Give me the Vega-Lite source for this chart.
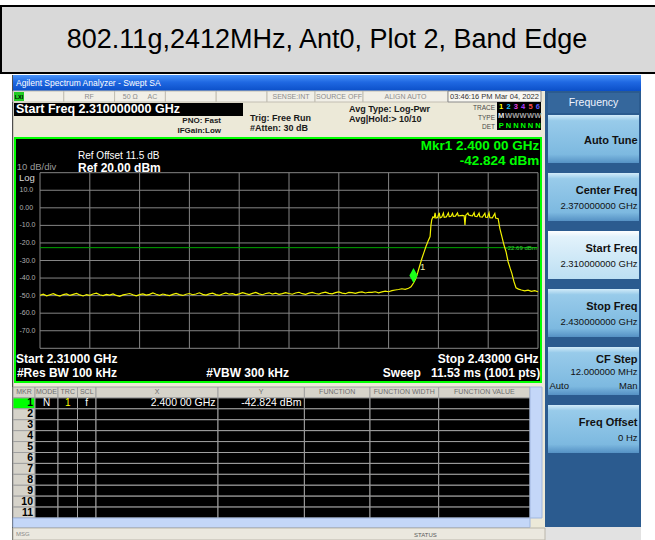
{
"$schema":"https://vega.github.io/schema/vega-lite/v6.json",
"width":655,"height":540,"autosize":{"type":"none"},"padding":0,"background":"#ffffff",
"config":{"font":"Liberation Sans","view":{"stroke":null},"axis":{"disable":true},"legend":{"disable":true}},
"resolve":{"scale":{"x":"independent","y":"independent","color":"independent","fill":"independent"}},
"datasets":{
"trace":[
{"f":2.3100,"db":-49.8},{"f":2.3108,"db":-49.2},{"f":2.3116,"db":-50.1},{"f":2.3124,"db":-49.5},{"f":2.3132,"db":-48.9},{"f":2.3140,"db":-49.7},{"f":2.3148,"db":-50.3},{"f":2.3156,"db":-49.4},{"f":2.3164,"db":-49.0},{"f":2.3172,"db":-49.9},
{"f":2.3180,"db":-49.3},{"f":2.3188,"db":-48.7},{"f":2.3196,"db":-49.6},{"f":2.3204,"db":-50.2},{"f":2.3212,"db":-49.4},{"f":2.3220,"db":-49.8},{"f":2.3228,"db":-49.1},{"f":2.3236,"db":-48.6},{"f":2.3244,"db":-49.5},{"f":2.3252,"db":-50.0},
{"f":2.3260,"db":-49.3},{"f":2.3268,"db":-49.7},{"f":2.3276,"db":-49.0},{"f":2.3284,"db":-49.9},{"f":2.3292,"db":-50.4},{"f":2.3300,"db":-49.6},{"f":2.3308,"db":-49.2},{"f":2.3316,"db":-48.8},{"f":2.3324,"db":-49.5},{"f":2.3332,"db":-50.1},
{"f":2.3340,"db":-49.4},{"f":2.3348,"db":-49.0},{"f":2.3356,"db":-49.7},{"f":2.3364,"db":-49.3},{"f":2.3372,"db":-48.5},{"f":2.3380,"db":-49.2},{"f":2.3388,"db":-49.8},{"f":2.3396,"db":-49.1},{"f":2.3404,"db":-49.6},{"f":2.3412,"db":-50.0},
{"f":2.3420,"db":-49.3},{"f":2.3428,"db":-48.7},{"f":2.3436,"db":-49.4},{"f":2.3444,"db":-49.9},{"f":2.3452,"db":-49.2},{"f":2.3460,"db":-48.8},{"f":2.3468,"db":-49.5},{"f":2.3476,"db":-49.1},{"f":2.3484,"db":-48.4},{"f":2.3492,"db":-49.3},
{"f":2.3500,"db":-49.7},{"f":2.3508,"db":-49.0},{"f":2.3516,"db":-48.6},{"f":2.3524,"db":-49.4},{"f":2.3532,"db":-49.8},{"f":2.3540,"db":-49.1},{"f":2.3548,"db":-48.5},{"f":2.3556,"db":-49.2},{"f":2.3564,"db":-48.9},{"f":2.3572,"db":-49.6},
{"f":2.3580,"db":-49.0},{"f":2.3588,"db":-48.3},{"f":2.3596,"db":-48.9},{"f":2.3604,"db":-49.4},{"f":2.3612,"db":-48.7},{"f":2.3620,"db":-48.2},{"f":2.3628,"db":-49.0},{"f":2.3636,"db":-49.5},{"f":2.3644,"db":-48.8},{"f":2.3652,"db":-48.4},
{"f":2.3660,"db":-49.1},{"f":2.3668,"db":-48.6},{"f":2.3676,"db":-49.3},{"f":2.3684,"db":-48.9},{"f":2.3692,"db":-48.3},{"f":2.3700,"db":-48.8},{"f":2.3708,"db":-49.2},{"f":2.3716,"db":-48.5},{"f":2.3724,"db":-48.1},{"f":2.3732,"db":-48.9},
{"f":2.3740,"db":-49.3},{"f":2.3748,"db":-48.6},{"f":2.3756,"db":-48.2},{"f":2.3764,"db":-48.8},{"f":2.3772,"db":-49.1},{"f":2.3780,"db":-48.4},{"f":2.3788,"db":-48.0},{"f":2.3796,"db":-48.7},{"f":2.3804,"db":-49.0},{"f":2.3812,"db":-48.3},
{"f":2.3820,"db":-47.9},{"f":2.3828,"db":-48.6},{"f":2.3836,"db":-48.9},{"f":2.3844,"db":-48.2},{"f":2.3852,"db":-48.3},{"f":2.3860,"db":-48.7},{"f":2.3868,"db":-48.2},{"f":2.3876,"db":-47.9},{"f":2.3884,"db":-48.5},{"f":2.3892,"db":-48.1},
{"f":2.3900,"db":-48.2},{"f":2.3908,"db":-47.8},{"f":2.3916,"db":-48.4},{"f":2.3924,"db":-47.9},{"f":2.3932,"db":-47.5},{"f":2.3940,"db":-47.8},{"f":2.3948,"db":-47.2},{"f":2.3956,"db":-46.8},{"f":2.3964,"db":-46.5},{"f":2.3972,"db":-46.1},
{"f":2.3980,"db":-46.4},{"f":2.3988,"db":-45.8},{"f":2.3994,"db":-45.0},{"f":2.4000,"db":-42.8},{"f":2.4005,"db":-40.5},{"f":2.4010,"db":-37.0},{"f":2.4015,"db":-33.0},{"f":2.4020,"db":-29.0},{"f":2.4025,"db":-25.5},{"f":2.4030,"db":-22.0},
{"f":2.4035,"db":-19.0},{"f":2.4040,"db":-16.4},{"f":2.4042,"db":-10.0},{"f":2.4044,"db":-6.8},{"f":2.4047,"db":-5.2},{"f":2.4050,"db":-5.6},{"f":2.4052,"db":-2.9},{"f":2.4054,"db":-5.8},{"f":2.4058,"db":-5.5},{"f":2.4062,"db":-2.8},
{"f":2.4064,"db":-5.7},{"f":2.4068,"db":-5.3},{"f":2.4072,"db":-3.0},{"f":2.4074,"db":-5.4},{"f":2.4079,"db":-5.2},{"f":2.4084,"db":-2.9},{"f":2.4086,"db":-5.0},{"f":2.4090,"db":-4.9},{"f":2.4094,"db":-3.1},{"f":2.4096,"db":-4.8},
{"f":2.4101,"db":-4.7},{"f":2.4106,"db":-2.9},{"f":2.4108,"db":-4.6},{"f":2.4114,"db":-4.4},{"f":2.4118,"db":-4.3},{"f":2.4122,"db":-4.5},{"f":2.4124,"db":-9.8},{"f":2.4126,"db":-4.2},{"f":2.4131,"db":-3.0},{"f":2.4133,"db":-4.1},
{"f":2.4138,"db":-4.4},{"f":2.4142,"db":-4.6},{"f":2.4146,"db":-2.8},{"f":2.4148,"db":-4.8},{"f":2.4153,"db":-5.0},{"f":2.4158,"db":-3.0},{"f":2.4160,"db":-5.1},{"f":2.4166,"db":-5.3},{"f":2.4172,"db":-3.1},{"f":2.4174,"db":-5.4},
{"f":2.4178,"db":-5.5},{"f":2.4182,"db":-2.9},{"f":2.4184,"db":-5.6},{"f":2.4190,"db":-5.7},{"f":2.4196,"db":-3.2},{"f":2.4198,"db":-5.8},{"f":2.4204,"db":-6.2},{"f":2.4208,"db":-11.7},{"f":2.4213,"db":-16.4},{"f":2.4218,"db":-21.2},
{"f":2.4223,"db":-25.0},{"f":2.4228,"db":-30.7},{"f":2.4233,"db":-34.5},{"f":2.4237,"db":-37.3},{"f":2.4242,"db":-42.0},{"f":2.4247,"db":-45.5},{"f":2.4253,"db":-46.3},{"f":2.4260,"db":-46.8},{"f":2.4268,"db":-47.3},{"f":2.4276,"db":-46.9},
{"f":2.4284,"db":-47.6},{"f":2.4292,"db":-47.2},{"f":2.4300,"db":-47.8}
],
"mkr":[
{"r":"hdr","MKR":"MKR","MODE":"MODE","TRC":"TRC","SCL":"SCL","X":"X","Y":"Y","FN":"FUNCTION","FW":"FUNCTION WIDTH","FV":"FUNCTION VALUE"},
{"r":"1","MKR":"1","MODE":"N","TRC":"1","SCL":"f","X":"2.400 00 GHz","Y":"-42.824 dBm"},
{"r":"2","MKR":"2"},{"r":"3","MKR":"3"},{"r":"4","MKR":"4"},{"r":"5","MKR":"5"},{"r":"6","MKR":"6"},{"r":"7","MKR":"7"},{"r":"8","MKR":"8"},{"r":"9","MKR":"9"},{"r":"10","MKR":"10"},{"r":"11","MKR":"11"}
],
"keys":[
{"p":"s","key":"Auto Tune"},
{"p":"s","key":"Center Freq","v":"2.370000000 GHz"},
{"p":"s","key":"Start Freq","v":"2.310000000 GHz"},
{"p":"s","key":"Stop Freq","v":"2.430000000 GHz"},
{"p":"s","key":"CF Step","v":"12.000000 MHz","a":"Auto","m":"Man"},
{"p":"s","key":"Freq Offset","v":"0 Hz"}
]
},
"layer":[
{"data":{"values":[{"k":"title","t":"802.11g,2412MHz, Ant0, Plot 2, Band Edge"}]},
 "encoding":{"x":{"field":"k","type":"nominal","scale":{"type":"band","range":[1,664],"paddingInner":0,"paddingOuter":0}},"y":{"field":"k","type":"nominal","scale":{"type":"band","range":[6,73],"paddingInner":0,"paddingOuter":0}}},
 "layer":[{"mark":{"type":"rect","fill":"#d9d9d9","stroke":"#000000","strokeWidth":2}},
          {"mark":{"type":"text","fontSize":27,"color":"#000000","dx":-5.5,"dy":0.5},"encoding":{"text":{"field":"t"}}}]},
{"data":{"values":[{"k":"base"}]},"mark":{"type":"rect","fill":"#ece9d8"},
 "encoding":{"x":{"field":"k","type":"nominal","scale":{"type":"band","range":[13,641],"paddingInner":0,"paddingOuter":0}},"y":{"field":"k","type":"nominal","scale":{"type":"band","range":[75,540],"paddingInner":0,"paddingOuter":0}}}},
{"data":{"values":[{"k":"edge"}]},"mark":{"type":"rect","fill":"#4d4d4d"},
 "encoding":{"x":{"field":"k","type":"nominal","scale":{"type":"band","range":[12,13.2],"paddingInner":0,"paddingOuter":0}},"y":{"field":"k","type":"nominal","scale":{"type":"band","range":[75,540],"paddingInner":0,"paddingOuter":0}}}},
{"data":{"values":[{"k":"w","t":"Agilent Spectrum Analyzer - Swept SA"}]},
 "encoding":{"x":{"field":"k","type":"nominal","scale":{"type":"band","range":[13,641],"paddingInner":0,"paddingOuter":0}},"y":{"field":"k","type":"nominal","scale":{"type":"band","range":[75,91],"paddingInner":0,"paddingOuter":0}}},
 "layer":[{"mark":{"type":"rect","fill":{"gradient":"linear","x1":0,"y1":0,"x2":0,"y2":1,"stops":[{"offset":0,"color":"#4a94f8"},{"offset":0.45,"color":"#1f68e2"},{"offset":1,"color":"#0b4fc8"}]}}},
          {"mark":{"type":"text","align":"left","dx":3,"fontSize":8.5,"color":"#ffffff"},"encoding":{"x":{"field":"k","type":"nominal","bandPosition":0,"scale":{"type":"band","range":[13,641],"paddingInner":0,"paddingOuter":0}},"text":{"field":"t"}}}]},
{"data":{"values":[{"k":"sk"}]},"mark":{"type":"rect","fill":"#2b5b8f"},
 "encoding":{"x":{"field":"k","type":"nominal","scale":{"type":"band","range":[545,641],"paddingInner":0,"paddingOuter":0}},"y":{"field":"k","type":"nominal","scale":{"type":"band","range":[91,527],"paddingInner":0,"paddingOuter":0}}}},
{"data":{"values":[{"k":"skb"}]},"mark":{"type":"rect","fill":"#e2e2e2"},
 "encoding":{"x":{"field":"k","type":"nominal","scale":{"type":"band","range":[545,641],"paddingInner":0,"paddingOuter":0}},"y":{"field":"k","type":"nominal","scale":{"type":"band","range":[527,540],"paddingInner":0,"paddingOuter":0}}}},
{"data":{"values":[{"k":"h","t":"Frequency"}]},
 "encoding":{"x":{"field":"k","type":"nominal","scale":{"type":"band","range":[548,639],"paddingInner":0,"paddingOuter":0}},"y":{"field":"k","type":"nominal","scale":{"type":"band","range":[93,113],"paddingInner":0,"paddingOuter":0}}},
 "layer":[{"mark":{"type":"rect","fill":"#35679c"}},{"mark":{"type":"text","fontSize":10.5,"color":"#f0f4ff"},"encoding":{"text":{"field":"t"}}}]},
{"data":{"name":"keys"},
 "layer":[
  {"transform":[{"filter":"datum.key !== 'Start Freq'"}],"mark":{"type":"rect","fill":{"gradient":"linear","x1":0,"y1":0,"x2":0,"y2":1,"stops":[{"offset":0,"color":"#d2ebf9"},{"offset":0.12,"color":"#98cbea"},{"offset":0.82,"color":"#7db9e0"},{"offset":1,"color":"#5591c4"}]}},
   "encoding":{"x":{"field":"p","type":"nominal","scale":{"type":"band","domain":["s"],"range":[548,639],"paddingInner":0,"paddingOuter":0}},"y":{"field":"key","type":"nominal","scale":{"type":"band","domain":["Auto Tune","Center Freq","Start Freq","Stop Freq","CF Step","Freq Offset"],"range":[115,453],"paddingInner":0.17,"paddingOuter":0}}}},
  {"transform":[{"filter":"datum.key === 'Start Freq'"}],"mark":{"type":"rect","fill":{"gradient":"linear","x1":0,"y1":0,"x2":0,"y2":1,"stops":[{"offset":0,"color":"#ffffff"},{"offset":0.12,"color":"#e2f2fb"},{"offset":1,"color":"#bcdff3"}]}},
   "encoding":{"x":{"field":"p","type":"nominal","scale":{"type":"band","domain":["s"],"range":[548,639],"paddingInner":0,"paddingOuter":0}},"y":{"field":"key","type":"nominal","scale":{"type":"band","domain":["Auto Tune","Center Freq","Start Freq","Stop Freq","CF Step","Freq Offset"],"range":[115,453],"paddingInner":0.17,"paddingOuter":0}}}},
  {"transform":[{"filter":"datum.key !== 'Auto Tune' && datum.key !== 'CF Step'"}],"mark":{"type":"text","align":"right","dx":-1.5,"fontSize":11,"fontWeight":"bold","color":"#111111"},
   "encoding":{"text":{"field":"key"},"x":{"field":"p","type":"nominal","bandPosition":1,"scale":{"type":"band","domain":["s"],"range":[548,639],"paddingInner":0,"paddingOuter":0}},"y":{"field":"key","type":"nominal","bandPosition":0.38,"scale":{"type":"band","domain":["Auto Tune","Center Freq","Start Freq","Stop Freq","CF Step","Freq Offset"],"range":[115,453],"paddingInner":0.17,"paddingOuter":0}}}},
  {"transform":[{"filter":"datum.key === 'Auto Tune'"}],"mark":{"type":"text","align":"right","dx":-1.5,"fontSize":11,"fontWeight":"bold","color":"#111111"},
   "encoding":{"text":{"field":"key"},"x":{"field":"p","type":"nominal","bandPosition":1,"scale":{"type":"band","domain":["s"],"range":[548,639],"paddingInner":0,"paddingOuter":0}},"y":{"field":"key","type":"nominal","bandPosition":0.547,"scale":{"type":"band","domain":["Auto Tune","Center Freq","Start Freq","Stop Freq","CF Step","Freq Offset"],"range":[115,453],"paddingInner":0.17,"paddingOuter":0}}}},
  {"transform":[{"filter":"datum.key === 'CF Step'"}],"mark":{"type":"text","align":"right","dx":-1.5,"fontSize":11,"fontWeight":"bold","color":"#111111"},
   "encoding":{"text":{"field":"key"},"x":{"field":"p","type":"nominal","bandPosition":1,"scale":{"type":"band","domain":["s"],"range":[548,639],"paddingInner":0,"paddingOuter":0}},"y":{"field":"key","type":"nominal","bandPosition":0.27,"scale":{"type":"band","domain":["Auto Tune","Center Freq","Start Freq","Stop Freq","CF Step","Freq Offset"],"range":[115,453],"paddingInner":0.17,"paddingOuter":0}}}},
  {"transform":[{"filter":"isValid(datum.v) && datum.key !== 'CF Step'"}],"mark":{"type":"text","align":"right","dx":-1.5,"fontSize":9.5,"color":"#111111"},
   "encoding":{"text":{"field":"v"},"x":{"field":"p","type":"nominal","bandPosition":1,"scale":{"type":"band","domain":["s"],"range":[548,639],"paddingInner":0,"paddingOuter":0}},"y":{"field":"key","type":"nominal","bandPosition":0.69,"scale":{"type":"band","domain":["Auto Tune","Center Freq","Start Freq","Stop Freq","CF Step","Freq Offset"],"range":[115,453],"paddingInner":0.17,"paddingOuter":0}}}},
  {"transform":[{"filter":"datum.key === 'CF Step'"}],"mark":{"type":"text","align":"right","dx":-1.5,"fontSize":9.5,"color":"#111111"},
   "encoding":{"text":{"field":"v"},"x":{"field":"p","type":"nominal","bandPosition":1,"scale":{"type":"band","domain":["s"],"range":[548,639],"paddingInner":0,"paddingOuter":0}},"y":{"field":"key","type":"nominal","bandPosition":0.513,"scale":{"type":"band","domain":["Auto Tune","Center Freq","Start Freq","Stop Freq","CF Step","Freq Offset"],"range":[115,453],"paddingInner":0.17,"paddingOuter":0}}}},
  {"transform":[{"filter":"datum.key === 'CF Step'"}],"mark":{"type":"text","align":"right","dx":-1.5,"fontSize":9.5,"color":"#111111"},
   "encoding":{"text":{"field":"m"},"x":{"field":"p","type":"nominal","bandPosition":1,"scale":{"type":"band","domain":["s"],"range":[548,639],"paddingInner":0,"paddingOuter":0}},"y":{"field":"key","type":"nominal","bandPosition":0.81,"scale":{"type":"band","domain":["Auto Tune","Center Freq","Start Freq","Stop Freq","CF Step","Freq Offset"],"range":[115,453],"paddingInner":0.17,"paddingOuter":0}}}},
  {"transform":[{"filter":"datum.key === 'CF Step'"}],"mark":{"type":"text","align":"left","dx":1.5,"fontSize":9.5,"color":"#111111"},
   "encoding":{"text":{"field":"a"},"x":{"field":"p","type":"nominal","bandPosition":0,"scale":{"type":"band","domain":["s"],"range":[548,639],"paddingInner":0,"paddingOuter":0}},"y":{"field":"key","type":"nominal","bandPosition":0.81,"scale":{"type":"band","domain":["Auto Tune","Center Freq","Start Freq","Stop Freq","CF Step","Freq Offset"],"range":[115,453],"paddingInner":0.17,"paddingOuter":0}}}}
 ]},
{"data":{"values":[{"g":"s","c":"1","t":""},{"g":"s","c":"2","t":"RF"},{"g":"s","c":"3","t":"50 Ω\u00a0\u00a0\u00a0\u00a0\u00a0AC"},{"g":"s","c":"4","t":""},{"g":"s","c":"5","t":""}]},
 "encoding":{"x":{"field":"c","type":"nominal","scale":{"type":"band","domain":["1","2","3","4","5"],"range":[13,267],"paddingInner":0,"paddingOuter":0}},"y":{"field":"g","type":"nominal","scale":{"type":"band","range":[91,102],"paddingInner":0,"paddingOuter":0}}},
 "layer":[{"mark":{"type":"rect","fill":"#f1efe7","stroke":"#c2beb2","strokeWidth":1}},{"mark":{"type":"text","fontSize":7,"color":"#8c8c8c"},"encoding":{"text":{"field":"t"}}}]},
{"data":{"values":[{"g":"s","c":"1","t":"SENSE:INT"},{"g":"s","c":"2","t":"SOURCE OFF"}]},
 "encoding":{"x":{"field":"c","type":"nominal","scale":{"type":"band","domain":["1","2"],"range":[267,363],"paddingInner":0,"paddingOuter":0}},"y":{"field":"g","type":"nominal","scale":{"type":"band","range":[91,102],"paddingInner":0,"paddingOuter":0}}},
 "layer":[{"mark":{"type":"rect","fill":"#f1efe7","stroke":"#c2beb2","strokeWidth":1}},{"mark":{"type":"text","fontSize":7,"color":"#8c8c8c"},"encoding":{"text":{"field":"t"}}}]},
{"data":{"values":[{"g":"s","t":"ALIGN AUTO"}]},
 "encoding":{"x":{"field":"t","type":"nominal","scale":{"type":"band","range":[363,448],"paddingInner":0,"paddingOuter":0}},"y":{"field":"g","type":"nominal","scale":{"type":"band","range":[91,102],"paddingInner":0,"paddingOuter":0}}},
 "layer":[{"mark":{"type":"rect","fill":"#f1efe7","stroke":"#c2beb2","strokeWidth":1}},{"mark":{"type":"text","fontSize":7,"color":"#8c8c8c"},"encoding":{"text":{"field":"t"}}}]},
{"data":{"values":[{"g":"s","t":"03:46:16 PM Mar 04, 2022"}]},
 "encoding":{"x":{"field":"t","type":"nominal","scale":{"type":"band","range":[448,541],"paddingInner":0,"paddingOuter":0}},"y":{"field":"g","type":"nominal","scale":{"type":"band","range":[91,102],"paddingInner":0,"paddingOuter":0}}},
 "layer":[{"mark":{"type":"rect","fill":"#f8f7f2","stroke":"#8a8a8a","strokeWidth":1}},{"mark":{"type":"text","fontSize":7.5,"color":"#333333"},"encoding":{"text":{"field":"t"}}}]},
{"data":{"values":[{"k":"lxi","t":"LXI"}]},
 "encoding":{"x":{"field":"k","type":"nominal","scale":{"type":"band","range":[14,24],"paddingInner":0,"paddingOuter":0}},"y":{"field":"k","type":"nominal","scale":{"type":"band","range":[92,101],"paddingInner":0,"paddingOuter":0}}},
 "layer":[{"mark":{"type":"rect","fill":"#22cc22"}},{"mark":{"type":"text","fontSize":5.5,"fontWeight":"bold","color":"#000000"},"encoding":{"text":{"field":"t"}}}]},
{"data":{"values":[{"k":"sf","t":"Start Freq 2.310000000 GHz"}]},
 "encoding":{"x":{"field":"k","type":"nominal","scale":{"type":"band","range":[14,243],"paddingInner":0,"paddingOuter":0}},"y":{"field":"k","type":"nominal","scale":{"type":"band","range":[103,116],"paddingInner":0,"paddingOuter":0}}},
 "layer":[{"mark":{"type":"rect","fill":"#000000"}},
          {"mark":{"type":"text","align":"left","dx":2,"dy":-0.5,"fontSize":12.5,"fontWeight":"bold","color":"#ffffff"},"encoding":{"x":{"field":"k","type":"nominal","bandPosition":0,"scale":{"type":"band","range":[14,243],"paddingInner":0,"paddingOuter":0}},"text":{"field":"t"}}}]},
{"data":{"values":[{"k":"a","l":"1","t":"PNO: Fast"},{"k":"a","l":"2","t":"IFGain:Low"}]},"mark":{"type":"text","align":"right","fontSize":8,"fontWeight":"bold","color":"#1a1a1a"},
 "encoding":{"x":{"field":"k","type":"nominal","scale":{"type":"point","range":[221,221],"padding":0}},"y":{"field":"l","type":"nominal","scale":{"type":"point","domain":["1","2"],"range":[120.8,130.5],"padding":0}},"text":{"field":"t"}}},
{"data":{"values":[{"k":"a","l":"1","t":"Trig: Free Run"},{"k":"a","l":"2","t":"#Atten: 30 dB"}]},"mark":{"type":"text","align":"left","fontSize":9,"fontWeight":"bold","color":"#1a1a1a"},
 "encoding":{"x":{"field":"k","type":"nominal","scale":{"type":"point","range":[250,250],"padding":0}},"y":{"field":"l","type":"nominal","scale":{"type":"point","domain":["1","2"],"range":[118.2,128.2],"padding":0}},"text":{"field":"t"}}},
{"data":{"values":[{"k":"a","l":"1","t":"Avg Type: Log-Pwr"},{"k":"a","l":"2","t":"Avg|Hold:> 10/10"}]},"mark":{"type":"text","align":"left","fontSize":9,"fontWeight":"bold","color":"#1a1a1a"},
 "encoding":{"x":{"field":"k","type":"nominal","scale":{"type":"point","range":[349,349],"padding":0}},"y":{"field":"l","type":"nominal","scale":{"type":"point","domain":["1","2"],"range":[108.5,119.2],"padding":0}},"text":{"field":"t"}}},
{"data":{"values":[{"k":"a","l":"1","t":"TRACE"},{"k":"a","l":"2","t":"TYPE"},{"k":"a","l":"3","t":"DET"}]},"mark":{"type":"text","align":"right","fontSize":6.5,"color":"#4a4a4a"},
 "encoding":{"x":{"field":"k","type":"nominal","scale":{"type":"point","range":[495,495],"padding":0}},"y":{"field":"l","type":"nominal","scale":{"type":"point","domain":["1","2","3"],"range":[108.2,127.2],"padding":0}},"text":{"field":"t"}}},
{"data":{"values":[{"k":"tb"}]},"mark":{"type":"rect","fill":"#000000"},
 "encoding":{"x":{"field":"k","type":"nominal","scale":{"type":"band","range":[497,541],"paddingInner":0,"paddingOuter":0}},"y":{"field":"k","type":"nominal","scale":{"type":"band","range":[102,130],"paddingInner":0,"paddingOuter":0}}}},
{"data":{"values":[
 {"c":"1","r":"a","t":"1","k":"t1"},{"c":"2","r":"a","t":"2","k":"t2"},{"c":"3","r":"a","t":"3","k":"t3"},{"c":"4","r":"a","t":"4","k":"t4"},{"c":"5","r":"a","t":"5","k":"t5"},{"c":"6","r":"a","t":"6","k":"t6"},
 {"c":"1","r":"b","t":"M","k":"m"},{"c":"2","r":"b","t":"W","k":"w"},{"c":"3","r":"b","t":"W","k":"w"},{"c":"4","r":"b","t":"W","k":"w"},{"c":"5","r":"b","t":"W","k":"w"},{"c":"6","r":"b","t":"W","k":"w"},
 {"c":"1","r":"c","t":"P","k":"d"},{"c":"2","r":"c","t":"N","k":"d"},{"c":"3","r":"c","t":"N","k":"d"},{"c":"4","r":"c","t":"N","k":"d"},{"c":"5","r":"c","t":"N","k":"d"},{"c":"6","r":"c","t":"N","k":"d"}]},
 "mark":{"type":"text","fontSize":7.5,"fontWeight":"bold"},
 "encoding":{"x":{"field":"c","type":"nominal","scale":{"type":"band","domain":["1","2","3","4","5","6"],"range":[497.5,541.5],"paddingInner":0,"paddingOuter":0}},"y":{"field":"r","type":"nominal","scale":{"type":"band","domain":["a","b","c"],"range":[102,130.5],"paddingInner":0,"paddingOuter":0}},"text":{"field":"t"},
  "color":{"field":"k","type":"nominal","legend":null,"scale":{"domain":["t1","t2","t3","t4","t5","t6","m","w","d"],"range":["#ffff00","#19c3ff","#e040e0","#b040ff","#ff4d4d","#5a5aff","#e6e6e6","#a0a0a0","#00ff00"]}}}},
{"data":{"values":[{"k":"frame"}]},"mark":{"type":"rect","fill":"#000000","stroke":"#00ff00","strokeWidth":2},
 "encoding":{"x":{"field":"k","type":"nominal","scale":{"type":"band","range":[15,541],"paddingInner":0,"paddingOuter":0}},"y":{"field":"k","type":"nominal","scale":{"type":"band","range":[138,382],"paddingInner":0,"paddingOuter":0}}}},
{"layer":[
 {"data":{"values":[{"db":20},{"db":10},{"db":0},{"db":-10},{"db":-20},{"db":-30},{"db":-40},{"db":-50},{"db":-60},{"db":-70},{"db":-80}]},"mark":{"type":"rule","color":"#858585","strokeWidth":1},
  "encoding":{"y":{"field":"db","type":"quantitative","scale":{"type":"linear","domain":[-80,20],"range":[348.3,172.7],"zero":false,"nice":false}},"x":{"datum":2.31,"type":"quantitative","scale":{"type":"linear","domain":[2.31,2.43],"range":[40,538],"zero":false,"nice":false}},"x2":{"datum":2.43}}},
 {"data":{"values":[{"f":2.31},{"f":2.322},{"f":2.334},{"f":2.346},{"f":2.358},{"f":2.37},{"f":2.382},{"f":2.394},{"f":2.406},{"f":2.418},{"f":2.43}]},"mark":{"type":"rule","color":"#858585","strokeWidth":1},
  "encoding":{"x":{"field":"f","type":"quantitative","scale":{"type":"linear","domain":[2.31,2.43],"range":[40,538],"zero":false,"nice":false}},"y":{"datum":-80,"type":"quantitative","scale":{"type":"linear","domain":[-80,20],"range":[348.3,172.7],"zero":false,"nice":false}},"y2":{"datum":20}}},
 {"data":{"values":[{"db":-22.69}]},"mark":{"type":"rule","color":"#00a800","strokeWidth":1},
  "encoding":{"y":{"field":"db","type":"quantitative","scale":{"type":"linear","domain":[-80,20],"range":[348.3,172.7],"zero":false,"nice":false}},"x":{"datum":2.31,"type":"quantitative","scale":{"type":"linear","domain":[2.31,2.43],"range":[40,538],"zero":false,"nice":false}},"x2":{"datum":2.43}}},
 {"data":{"values":[{"db":-22.69,"t":"-22.69 dBm"}]},"mark":{"type":"text","align":"right","fontSize":6,"color":"#3ad43a"},
  "encoding":{"y":{"field":"db","type":"quantitative","scale":{"type":"linear","domain":[-80,20],"range":[348.3,172.7],"zero":false,"nice":false}},"x":{"datum":2.4297,"type":"quantitative","scale":{"type":"linear","domain":[2.31,2.43],"range":[40,538],"zero":false,"nice":false}},"text":{"field":"t"}}},
 {"data":{"name":"trace"},"mark":{"type":"line","color":"#f2f200","strokeWidth":1.2},
  "encoding":{"x":{"field":"f","type":"quantitative","scale":{"type":"linear","domain":[2.31,2.43],"range":[40,538],"zero":false,"nice":false}},"y":{"field":"db","type":"quantitative","scale":{"type":"linear","domain":[-80,20],"range":[348.3,172.7],"zero":false,"nice":false}}}},
 {"data":{"values":[{"f":2.4,"db":-42.824}]},"mark":{"type":"point","shape":"M0,-2L0.55,-1L0,0L-0.55,-1Z","filled":true,"color":"#1aff1a","opacity":1,"size":225},
  "encoding":{"x":{"field":"f","type":"quantitative","scale":{"type":"linear","domain":[2.31,2.43],"range":[40,538],"zero":false,"nice":false}},"y":{"field":"db","type":"quantitative","scale":{"type":"linear","domain":[-80,20],"range":[348.3,172.7],"zero":false,"nice":false}}}},
 {"data":{"values":[{"t":"1"}]},"mark":{"type":"text","fontSize":9.5,"color":"#eeeeb0"},
  "encoding":{"x":{"datum":2.4022,"type":"quantitative","scale":{"type":"linear","domain":[2.31,2.43],"range":[40,538],"zero":false,"nice":false}},"y":{"datum":-33.9,"type":"quantitative","scale":{"type":"linear","domain":[-80,20],"range":[348.3,172.7],"zero":false,"nice":false}},"text":{"field":"t"}}},
 {"data":{"values":[{"db":10,"t":"10.0"},{"db":0,"t":"0.00"},{"db":-10,"t":"-10.0"},{"db":-20,"t":"-20.0"},{"db":-30,"t":"-30.0"},{"db":-40,"t":"-40.0"},{"db":-50,"t":"-50.0"},{"db":-60,"t":"-60.0"},{"db":-70,"t":"-70.0"}]},"mark":{"type":"text","align":"left","fontSize":7,"color":"#b0b0b0"},
  "encoding":{"y":{"field":"db","type":"quantitative","scale":{"type":"linear","domain":[-80,20],"range":[348.3,172.7],"zero":false,"nice":false}},"x":{"datum":2.30506,"type":"quantitative","scale":{"type":"linear","domain":[2.31,2.43],"range":[40,538],"zero":false,"nice":false}},"text":{"field":"t"}}},
 {"data":{"values":[{"t":"Ref Offset 11.5 dB"}]},"mark":{"type":"text","align":"left","fontSize":10,"color":"#ffffff"},
  "encoding":{"x":{"datum":2.31916,"type":"quantitative","scale":{"type":"linear","domain":[2.31,2.43],"range":[40,538],"zero":false,"nice":false}},"y":{"datum":29.62,"type":"quantitative","scale":{"type":"linear","domain":[-80,20],"range":[348.3,172.7],"zero":false,"nice":false}},"text":{"field":"t"}}},
 {"data":{"values":[{"t":"Ref 20.00 dBm"}]},"mark":{"type":"text","align":"left","fontSize":12,"fontWeight":"bold","color":"#ffffff"},
  "encoding":{"x":{"datum":2.31916,"type":"quantitative","scale":{"type":"linear","domain":[2.31,2.43],"range":[40,538],"zero":false,"nice":false}},"y":{"datum":22.68,"type":"quantitative","scale":{"type":"linear","domain":[-80,20],"range":[348.3,172.7],"zero":false,"nice":false}},"text":{"field":"t"}}},
 {"data":{"values":[{"t":"10 dB/div"}]},"mark":{"type":"text","align":"left","fontSize":9.5,"color":"#9a9a9a"},
  "encoding":{"x":{"datum":2.30439,"type":"quantitative","scale":{"type":"linear","domain":[2.31,2.43],"range":[40,538],"zero":false,"nice":false}},"y":{"datum":23.13,"type":"quantitative","scale":{"type":"linear","domain":[-80,20],"range":[348.3,172.7],"zero":false,"nice":false}},"text":{"field":"t"}}},
 {"data":{"values":[{"t":"Log"}]},"mark":{"type":"text","align":"left","fontSize":9.5,"color":"#d8d8d8"},
  "encoding":{"x":{"datum":2.30494,"type":"quantitative","scale":{"type":"linear","domain":[2.31,2.43],"range":[40,538],"zero":false,"nice":false}},"y":{"datum":17.1,"type":"quantitative","scale":{"type":"linear","domain":[-80,20],"range":[348.3,172.7],"zero":false,"nice":false}},"text":{"field":"t"}}},
 {"data":{"values":[{"t":"Mkr1 2.400 00 GHz"}]},"mark":{"type":"text","align":"right","fontSize":13.5,"fontWeight":"bold","color":"#00ff00"},
  "encoding":{"x":{"datum":2.43031,"type":"quantitative","scale":{"type":"linear","domain":[2.31,2.43],"range":[40,538],"zero":false,"nice":false}},"y":{"datum":35.4,"type":"quantitative","scale":{"type":"linear","domain":[-80,20],"range":[348.3,172.7],"zero":false,"nice":false}},"text":{"field":"t"}}},
 {"data":{"values":[{"t":"-42.824 dBm"}]},"mark":{"type":"text","align":"right","fontSize":13.5,"fontWeight":"bold","color":"#00ff00"},
  "encoding":{"x":{"datum":2.43031,"type":"quantitative","scale":{"type":"linear","domain":[2.31,2.43],"range":[40,538],"zero":false,"nice":false}},"y":{"datum":26.85,"type":"quantitative","scale":{"type":"linear","domain":[-80,20],"range":[348.3,172.7],"zero":false,"nice":false}},"text":{"field":"t"}}},
 {"data":{"values":[{"t":"Start 2.31000 GHz"}]},"mark":{"type":"text","align":"left","fontSize":12,"fontWeight":"bold","color":"#ffffff"},
  "encoding":{"x":{"datum":2.30422,"type":"quantitative","scale":{"type":"linear","domain":[2.31,2.43],"range":[40,538],"zero":false,"nice":false}},"y":{"datum":-86.27,"type":"quantitative","scale":{"type":"linear","domain":[-80,20],"range":[348.3,172.7],"zero":false,"nice":false}},"text":{"field":"t"}}},
 {"data":{"values":[{"t":"Stop 2.43000 GHz"}]},"mark":{"type":"text","align":"right","fontSize":12,"fontWeight":"bold","color":"#ffffff"},
  "encoding":{"x":{"datum":2.43014,"type":"quantitative","scale":{"type":"linear","domain":[2.31,2.43],"range":[40,538],"zero":false,"nice":false}},"y":{"datum":-86.27,"type":"quantitative","scale":{"type":"linear","domain":[-80,20],"range":[348.3,172.7],"zero":false,"nice":false}},"text":{"field":"t"}}},
 {"data":{"values":[{"t":"#Res BW 100 kHz"}]},"mark":{"type":"text","align":"left","fontSize":12,"fontWeight":"bold","color":"#ffffff"},
  "encoding":{"x":{"datum":2.30443,"type":"quantitative","scale":{"type":"linear","domain":[2.31,2.43],"range":[40,538],"zero":false,"nice":false}},"y":{"datum":-94.06,"type":"quantitative","scale":{"type":"linear","domain":[-80,20],"range":[348.3,172.7],"zero":false,"nice":false}},"text":{"field":"t"}}},
 {"data":{"values":[{"t":"#VBW 300 kHz"}]},"mark":{"type":"text","align":"left","fontSize":12,"fontWeight":"bold","color":"#ffffff"},
  "encoding":{"x":{"datum":2.35007,"type":"quantitative","scale":{"type":"linear","domain":[2.31,2.43],"range":[40,538],"zero":false,"nice":false}},"y":{"datum":-94.06,"type":"quantitative","scale":{"type":"linear","domain":[-80,20],"range":[348.3,172.7],"zero":false,"nice":false}},"text":{"field":"t"}}},
 {"data":{"values":[{"t":"Sweep\u00a0\u00a0 11.53 ms (1001 pts)"}]},"mark":{"type":"text","align":"right","fontSize":12,"fontWeight":"bold","color":"#ffffff"},
  "encoding":{"x":{"datum":2.43055,"type":"quantitative","scale":{"type":"linear","domain":[2.31,2.43],"range":[40,538],"zero":false,"nice":false}},"y":{"datum":-94.06,"type":"quantitative","scale":{"type":"linear","domain":[-80,20],"range":[348.3,172.7],"zero":false,"nice":false}},"text":{"field":"t"}}}
]},
{"data":{"name":"mkr"},"transform":[{"fold":["MKR"],"as":["c","t"]}],
 "layer":[
  {"mark":{"type":"rect","stroke":"#a0a0a0","strokeWidth":1},"encoding":{"x":{"field":"c","type":"nominal","scale":{"type":"band","domain":["MKR"],"range":[13,35],"paddingInner":0,"paddingOuter":0}},"y":{"field":"r","type":"nominal","scale":{"type":"band","domain":["hdr","1","2","3","4","5","6","7","8","9","10","11"],"range":[387,518],"paddingInner":0,"paddingOuter":0}},"fill":{"condition":{"test":"datum.r === '1'","value":"#00ff00"},"value":"#d6d3ca"}}},
  {"transform":[{"filter":"datum.r === 'hdr'"}],"mark":{"type":"text","fontSize":7,"color":"#6e6e6e"},"encoding":{"x":{"field":"c","type":"nominal","scale":{"type":"band","domain":["MKR"],"range":[13,35],"paddingInner":0,"paddingOuter":0}},"y":{"field":"r","type":"nominal","scale":{"type":"band","domain":["hdr","1","2","3","4","5","6","7","8","9","10","11"],"range":[387,518],"paddingInner":0,"paddingOuter":0}},"text":{"field":"t"}}},
  {"transform":[{"filter":"datum.r !== 'hdr' && isValid(datum.t)"}],"mark":{"type":"text","align":"right","dx":-2,"fontSize":10.5,"fontWeight":"bold","color":"#000000"},"encoding":{"x":{"field":"c","type":"nominal","bandPosition":1,"scale":{"type":"band","domain":["MKR"],"range":[13,35],"paddingInner":0,"paddingOuter":0}},"y":{"field":"r","type":"nominal","scale":{"type":"band","domain":["hdr","1","2","3","4","5","6","7","8","9","10","11"],"range":[387,518],"paddingInner":0,"paddingOuter":0}},"text":{"field":"t"}}}
 ]},
{"data":{"name":"mkr"},"transform":[{"fold":["MODE"],"as":["c","t"]}],
 "layer":[
  {"mark":{"type":"rect","stroke":"#a0a0a0","strokeWidth":1},"encoding":{"x":{"field":"c","type":"nominal","scale":{"type":"band","domain":["MODE"],"range":[35,58],"paddingInner":0,"paddingOuter":0}},"y":{"field":"r","type":"nominal","scale":{"type":"band","domain":["hdr","1","2","3","4","5","6","7","8","9","10","11"],"range":[387,518],"paddingInner":0,"paddingOuter":0}},"fill":{"condition":{"test":"datum.r === 'hdr'","value":"#d6d3ca"},"value":"#000000"}}},
  {"transform":[{"filter":"isValid(datum.t)"}],"mark":{"type":"text"},"encoding":{"x":{"field":"c","type":"nominal","scale":{"type":"band","domain":["MODE"],"range":[35,58],"paddingInner":0,"paddingOuter":0}},"y":{"field":"r","type":"nominal","scale":{"type":"band","domain":["hdr","1","2","3","4","5","6","7","8","9","10","11"],"range":[387,518],"paddingInner":0,"paddingOuter":0}},"text":{"field":"t"},"size":{"condition":{"test":"datum.r === 'hdr'","value":7},"value":10},"color":{"condition":{"test":"datum.r === 'hdr'","value":"#6e6e6e"},"value":"#ffffff"}}}
 ]},
{"data":{"name":"mkr"},"transform":[{"fold":["TRC"],"as":["c","t"]}],
 "layer":[
  {"mark":{"type":"rect","stroke":"#a0a0a0","strokeWidth":1},"encoding":{"x":{"field":"c","type":"nominal","scale":{"type":"band","domain":["TRC"],"range":[58,77.5],"paddingInner":0,"paddingOuter":0}},"y":{"field":"r","type":"nominal","scale":{"type":"band","domain":["hdr","1","2","3","4","5","6","7","8","9","10","11"],"range":[387,518],"paddingInner":0,"paddingOuter":0}},"fill":{"condition":{"test":"datum.r === 'hdr'","value":"#d6d3ca"},"value":"#000000"}}},
  {"transform":[{"filter":"isValid(datum.t)"}],"mark":{"type":"text"},"encoding":{"x":{"field":"c","type":"nominal","scale":{"type":"band","domain":["TRC"],"range":[58,77.5],"paddingInner":0,"paddingOuter":0}},"y":{"field":"r","type":"nominal","scale":{"type":"band","domain":["hdr","1","2","3","4","5","6","7","8","9","10","11"],"range":[387,518],"paddingInner":0,"paddingOuter":0}},"text":{"field":"t"},"size":{"condition":{"test":"datum.r === 'hdr'","value":7},"value":10},"color":{"condition":{"test":"datum.r === 'hdr'","value":"#6e6e6e"},"value":"#ffff00"}}}
 ]},
{"data":{"name":"mkr"},"transform":[{"fold":["SCL"],"as":["c","t"]}],
 "layer":[
  {"mark":{"type":"rect","stroke":"#a0a0a0","strokeWidth":1},"encoding":{"x":{"field":"c","type":"nominal","scale":{"type":"band","domain":["SCL"],"range":[77.5,96],"paddingInner":0,"paddingOuter":0}},"y":{"field":"r","type":"nominal","scale":{"type":"band","domain":["hdr","1","2","3","4","5","6","7","8","9","10","11"],"range":[387,518],"paddingInner":0,"paddingOuter":0}},"fill":{"condition":{"test":"datum.r === 'hdr'","value":"#d6d3ca"},"value":"#000000"}}},
  {"transform":[{"filter":"isValid(datum.t)"}],"mark":{"type":"text"},"encoding":{"x":{"field":"c","type":"nominal","scale":{"type":"band","domain":["SCL"],"range":[77.5,96],"paddingInner":0,"paddingOuter":0}},"y":{"field":"r","type":"nominal","scale":{"type":"band","domain":["hdr","1","2","3","4","5","6","7","8","9","10","11"],"range":[387,518],"paddingInner":0,"paddingOuter":0}},"text":{"field":"t"},"size":{"condition":{"test":"datum.r === 'hdr'","value":7},"value":10},"color":{"condition":{"test":"datum.r === 'hdr'","value":"#6e6e6e"},"value":"#ffffff"}}}
 ]},
{"data":{"name":"mkr"},"transform":[{"fold":["X"],"as":["c","t"]}],
 "layer":[
  {"mark":{"type":"rect","stroke":"#a0a0a0","strokeWidth":1},"encoding":{"x":{"field":"c","type":"nominal","scale":{"type":"band","domain":["X"],"range":[96,218],"paddingInner":0,"paddingOuter":0}},"y":{"field":"r","type":"nominal","scale":{"type":"band","domain":["hdr","1","2","3","4","5","6","7","8","9","10","11"],"range":[387,518],"paddingInner":0,"paddingOuter":0}},"fill":{"condition":{"test":"datum.r === 'hdr'","value":"#d6d3ca"},"value":"#000000"}}},
  {"transform":[{"filter":"datum.r === 'hdr'"}],"mark":{"type":"text","fontSize":7,"color":"#6e6e6e"},"encoding":{"x":{"field":"c","type":"nominal","scale":{"type":"band","domain":["X"],"range":[96,218],"paddingInner":0,"paddingOuter":0}},"y":{"field":"r","type":"nominal","scale":{"type":"band","domain":["hdr","1","2","3","4","5","6","7","8","9","10","11"],"range":[387,518],"paddingInner":0,"paddingOuter":0}},"text":{"field":"t"}}},
  {"transform":[{"filter":"datum.r !== 'hdr' && isValid(datum.t)"}],"mark":{"type":"text","align":"right","dx":-2.5,"fontSize":10.5,"color":"#ffffff"},"encoding":{"x":{"field":"c","type":"nominal","bandPosition":1,"scale":{"type":"band","domain":["X"],"range":[96,218],"paddingInner":0,"paddingOuter":0}},"y":{"field":"r","type":"nominal","scale":{"type":"band","domain":["hdr","1","2","3","4","5","6","7","8","9","10","11"],"range":[387,518],"paddingInner":0,"paddingOuter":0}},"text":{"field":"t"}}}
 ]},
{"data":{"name":"mkr"},"transform":[{"fold":["Y"],"as":["c","t"]}],
 "layer":[
  {"mark":{"type":"rect","stroke":"#a0a0a0","strokeWidth":1},"encoding":{"x":{"field":"c","type":"nominal","scale":{"type":"band","domain":["Y"],"range":[218,304.4],"paddingInner":0,"paddingOuter":0}},"y":{"field":"r","type":"nominal","scale":{"type":"band","domain":["hdr","1","2","3","4","5","6","7","8","9","10","11"],"range":[387,518],"paddingInner":0,"paddingOuter":0}},"fill":{"condition":{"test":"datum.r === 'hdr'","value":"#d6d3ca"},"value":"#000000"}}},
  {"transform":[{"filter":"datum.r === 'hdr'"}],"mark":{"type":"text","fontSize":7,"color":"#6e6e6e"},"encoding":{"x":{"field":"c","type":"nominal","scale":{"type":"band","domain":["Y"],"range":[218,304.4],"paddingInner":0,"paddingOuter":0}},"y":{"field":"r","type":"nominal","scale":{"type":"band","domain":["hdr","1","2","3","4","5","6","7","8","9","10","11"],"range":[387,518],"paddingInner":0,"paddingOuter":0}},"text":{"field":"t"}}},
  {"transform":[{"filter":"datum.r !== 'hdr' && isValid(datum.t)"}],"mark":{"type":"text","align":"right","dx":-3,"fontSize":10.5,"color":"#ffffff"},"encoding":{"x":{"field":"c","type":"nominal","bandPosition":1,"scale":{"type":"band","domain":["Y"],"range":[218,304.4],"paddingInner":0,"paddingOuter":0}},"y":{"field":"r","type":"nominal","scale":{"type":"band","domain":["hdr","1","2","3","4","5","6","7","8","9","10","11"],"range":[387,518],"paddingInner":0,"paddingOuter":0}},"text":{"field":"t"}}}
 ]},
{"data":{"name":"mkr"},"transform":[{"fold":["FN"],"as":["c","t"]}],
 "layer":[
  {"mark":{"type":"rect","stroke":"#a0a0a0","strokeWidth":1},"encoding":{"x":{"field":"c","type":"nominal","scale":{"type":"band","domain":["FN"],"range":[304.4,370],"paddingInner":0,"paddingOuter":0}},"y":{"field":"r","type":"nominal","scale":{"type":"band","domain":["hdr","1","2","3","4","5","6","7","8","9","10","11"],"range":[387,518],"paddingInner":0,"paddingOuter":0}},"fill":{"condition":{"test":"datum.r === 'hdr'","value":"#d6d3ca"},"value":"#000000"}}},
  {"transform":[{"filter":"datum.r === 'hdr'"}],"mark":{"type":"text","fontSize":7,"color":"#6e6e6e"},"encoding":{"x":{"field":"c","type":"nominal","scale":{"type":"band","domain":["FN"],"range":[304.4,370],"paddingInner":0,"paddingOuter":0}},"y":{"field":"r","type":"nominal","scale":{"type":"band","domain":["hdr","1","2","3","4","5","6","7","8","9","10","11"],"range":[387,518],"paddingInner":0,"paddingOuter":0}},"text":{"field":"t"}}}
 ]},
{"data":{"name":"mkr"},"transform":[{"fold":["FW"],"as":["c","t"]}],
 "layer":[
  {"mark":{"type":"rect","stroke":"#a0a0a0","strokeWidth":1},"encoding":{"x":{"field":"c","type":"nominal","scale":{"type":"band","domain":["FW"],"range":[370,438.7],"paddingInner":0,"paddingOuter":0}},"y":{"field":"r","type":"nominal","scale":{"type":"band","domain":["hdr","1","2","3","4","5","6","7","8","9","10","11"],"range":[387,518],"paddingInner":0,"paddingOuter":0}},"fill":{"condition":{"test":"datum.r === 'hdr'","value":"#d6d3ca"},"value":"#000000"}}},
  {"transform":[{"filter":"datum.r === 'hdr'"}],"mark":{"type":"text","fontSize":7,"color":"#6e6e6e"},"encoding":{"x":{"field":"c","type":"nominal","scale":{"type":"band","domain":["FW"],"range":[370,438.7],"paddingInner":0,"paddingOuter":0}},"y":{"field":"r","type":"nominal","scale":{"type":"band","domain":["hdr","1","2","3","4","5","6","7","8","9","10","11"],"range":[387,518],"paddingInner":0,"paddingOuter":0}},"text":{"field":"t"}}}
 ]},
{"data":{"name":"mkr"},"transform":[{"fold":["FV"],"as":["c","t"]}],
 "layer":[
  {"mark":{"type":"rect","stroke":"#a0a0a0","strokeWidth":1},"encoding":{"x":{"field":"c","type":"nominal","scale":{"type":"band","domain":["FV"],"range":[438.7,530],"paddingInner":0,"paddingOuter":0}},"y":{"field":"r","type":"nominal","scale":{"type":"band","domain":["hdr","1","2","3","4","5","6","7","8","9","10","11"],"range":[387,518],"paddingInner":0,"paddingOuter":0}},"fill":{"condition":{"test":"datum.r === 'hdr'","value":"#d6d3ca"},"value":"#000000"}}},
  {"transform":[{"filter":"datum.r === 'hdr'"}],"mark":{"type":"text","fontSize":7,"color":"#6e6e6e"},"encoding":{"x":{"field":"c","type":"nominal","scale":{"type":"band","domain":["FV"],"range":[438.7,530],"paddingInner":0,"paddingOuter":0}},"y":{"field":"r","type":"nominal","scale":{"type":"band","domain":["hdr","1","2","3","4","5","6","7","8","9","10","11"],"range":[387,518],"paddingInner":0,"paddingOuter":0}},"text":{"field":"t"}}}
 ]},
{"data":{"values":[{"k":"vs"}]},"mark":{"type":"rect","fill":"#c4d7f8","stroke":"#9fb6de","strokeWidth":1},
 "encoding":{"x":{"field":"k","type":"nominal","scale":{"type":"band","range":[530,542],"paddingInner":0,"paddingOuter":0}},"y":{"field":"k","type":"nominal","scale":{"type":"band","range":[387,518],"paddingInner":0,"paddingOuter":0}}}},
{"data":{"values":[{"k":"hs"}]},"mark":{"type":"rect","fill":"#c4d7f8","stroke":"#9fb6de","strokeWidth":1},
 "encoding":{"x":{"field":"k","type":"nominal","scale":{"type":"band","range":[13,530],"paddingInner":0,"paddingOuter":0}},"y":{"field":"k","type":"nominal","scale":{"type":"band","range":[518,527.5],"paddingInner":0,"paddingOuter":0}}}},
{"data":{"values":[{"k":"msg","t":"MSG"}]},
 "encoding":{"x":{"field":"k","type":"nominal","scale":{"type":"band","range":[13,545],"paddingInner":0,"paddingOuter":0}},"y":{"field":"k","type":"nominal","scale":{"type":"band","range":[528,540],"paddingInner":0,"paddingOuter":0}}},
 "layer":[{"mark":{"type":"rect","fill":"#ebe8df","stroke":"#bab6aa","strokeWidth":1}},
          {"mark":{"type":"text","align":"left","dx":3,"fontSize":6,"color":"#8a8a8a"},"encoding":{"x":{"field":"k","type":"nominal","bandPosition":0,"scale":{"type":"band","range":[13,545],"paddingInner":0,"paddingOuter":0}},"text":{"field":"t"}}}]},
{"data":{"values":[{"k":"st","t":"STATUS"}]},"mark":{"type":"text","align":"left","fontSize":6,"color":"#5a5a5a"},
 "encoding":{"x":{"field":"k","type":"nominal","scale":{"type":"point","range":[414,414],"padding":0}},"y":{"field":"k","type":"nominal","scale":{"type":"point","range":[535,535],"padding":0}},"text":{"field":"t"}}}
]
}
